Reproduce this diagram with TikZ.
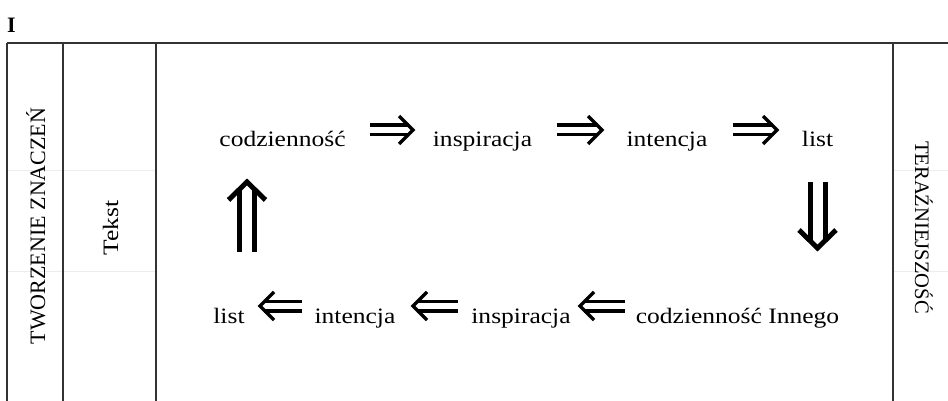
\documentclass[tikz,border=0pt]{standalone}
\usepackage{fontspec}
\setmainfont{Liberation Serif}
\newfontfamily\wordfont[FakeStretch=1.16]{Liberation Serif}
\usetikzlibrary{decorations.markings}
\begin{document}
\begin{tikzpicture}[x=1pt,y=-1pt,
  rule/.style={draw=black!80, line width=1.2pt},
  faint/.style={draw=black!7, line width=0.6pt},
  word/.style={font=\wordfont\fontsize{22}{26}\selectfont, inner sep=0pt,
    text height=39pt, text depth=5pt, anchor=base},
  hdbl/.style 2 args={draw=black, line width=3.5pt, double=white, double distance=6pt,
    shorten <=#1, shorten >=#2+4pt,
    postaction={decorate, decoration={markings, mark=at position -#2 with
      {\draw[black, line width=3.5pt, line join=miter, line cap=butt, shorten <=0pt, shorten >=0pt]
        (-14pt,14pt) -- (0pt,0pt) -- (-14pt,-14pt);}}}},
  vdbl/.style 2 args={draw=black, line width=5pt, double=white, double distance=10pt,
    shorten <=#1, shorten >=#2+7pt,
    postaction={decorate, decoration={markings, mark=at position -#2 with
      {\draw[black, line width=5pt, line join=miter, line cap=butt, shorten <=0pt, shorten >=0pt]
        (-18pt,18.5pt) -- (0pt,0pt) -- (-18pt,-18.5pt);}}}}
]
\useasboundingbox (0,0) rectangle (948,401);

% table frame
\draw[faint] (7,170) -- (156,170) (7,271) -- (156,271) (893,170) -- (948,170) (893,271) -- (948,271);
\draw[rule] (7,43) -- (948,43);
\draw[rule] (7,43) -- (7,401);
\draw[rule] (63,43) -- (63,401);
\draw[rule] (156,43) -- (156,401);
\draw[rule] (893,43) -- (893,401);

\node[anchor=base west, inner sep=0pt, font=\bfseries\fontsize{22}{26}\selectfont] (num) at (7,33) {I};

\node[rotate=90, anchor=base, inner sep=0pt, font=\fontsize{22}{26}\selectfont] (tz) at (45,226) {TWORZENIE ZNACZEŃ};
\node[rotate=90, anchor=base, inner sep=0pt, font=\wordfont\fontsize{22}{26}\selectfont] (tekst) at (118,228) {Tekst};
\node[rotate=-90, anchor=base, inner sep=0pt, font=\fontsize{20.6}{24}\selectfont] (ter) at (915,227.5) {TERAŹNIEJSZOŚĆ};

% top row
\node[word] (codzA) at (282.5,147) {codzienność};
\node[word] (inspA) at (482.5,147) {inspiracja};
\node[word] (intA) at (667,147) {intencja};
\node[word] (listA) at (817.5,147) {list};
% bottom row
\node[word] (listB) at (229,323) {list};
\node[word] (intB) at (355,323) {intencja};
\node[word] (inspB) at (521,323) {inspiracja};
\node[word] (codzB) at (737.5,323) {codzienność Innego};

\coordinate (upx) at (247,0);

\draw[hdbl={87.5pt}{69.5pt}] (codzA.center) -- (inspA.center);
\draw[hdbl={74.5pt}{65pt}] (inspA.center) -- (intA.center);
\draw[hdbl={66pt}{40.5pt}] (intA.center) -- (listA.center);
\draw[vdbl={52pt}{58pt}] (listA.center) -- (listA.center |- codzB.center);
\draw[hdbl={112.5pt}{59pt}] (codzB.center) -- (inspB.center);
\draw[hdbl={63pt}{58pt}] (inspB.center) -- (intB.center);
\draw[hdbl={53pt}{31pt}] (intB.center) -- (listB.center);
\draw[vdbl={54pt}{52pt}] (upx |- listB.center) -- (upx |- codzA.center);
\end{tikzpicture}
\end{document}
